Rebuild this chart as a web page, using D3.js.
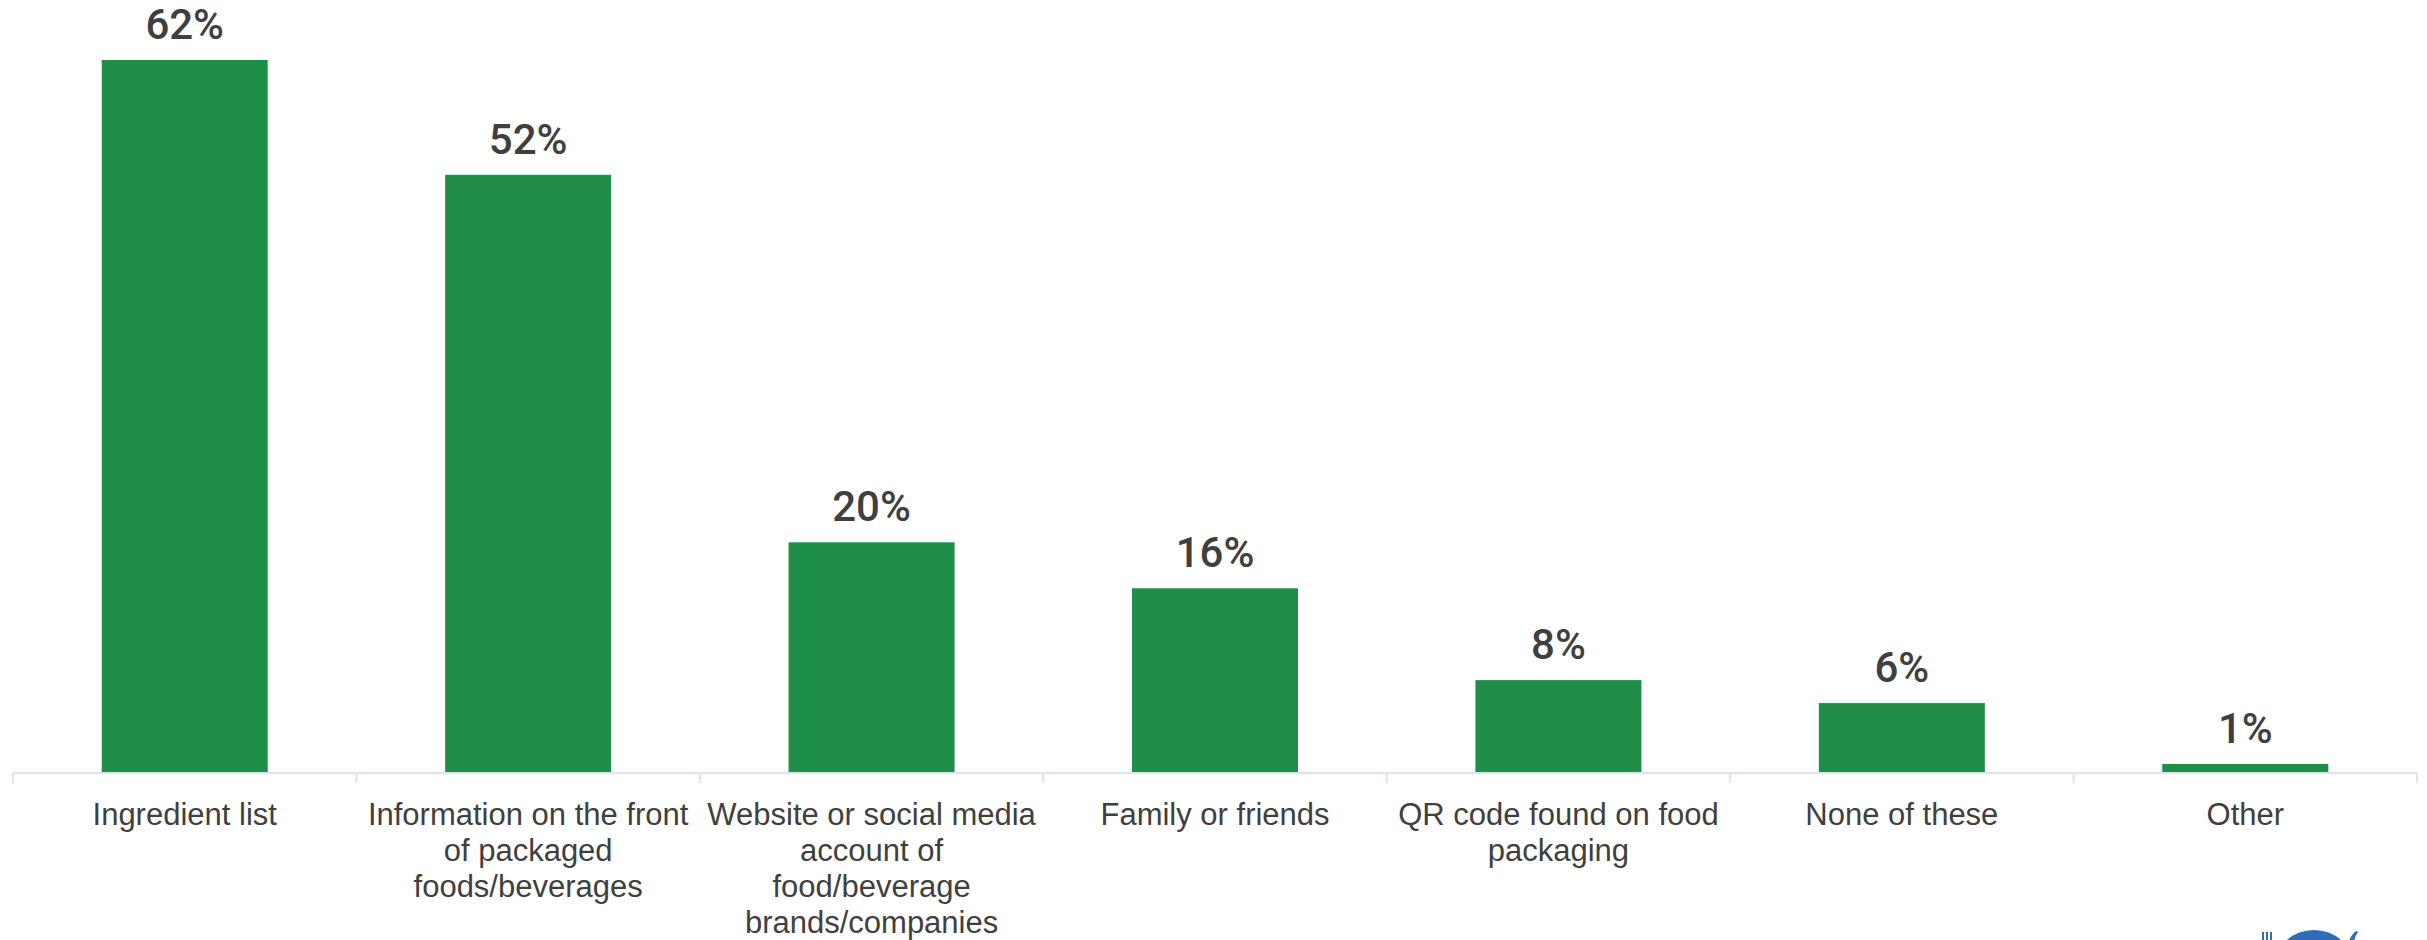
<!DOCTYPE html>
<html>
<head>
<meta charset="utf-8">
<script src="https://cdn.jsdelivr.net/npm/d3@7"></script>
<style>
  html, body { margin: 0; padding: 0; background: #ffffff; }
  svg { display: block; }
</style>
</head>
<body>
<svg id="chart" width="2427" height="940"></svg>
<script>
// ---- data ----
const categories = [
  "Ingredient list",
  "Information on the front of packaged foods/beverages",
  "Website or social media account of food/beverage brands/companies",
  "Family or friends",
  "QR code found on food packaging",
  "None of these",
  "Other"
];
const tickLabelLines = [
  ["Ingredient list"],
  ["Information on the front", "of packaged", "foods/beverages"],
  ["Website or social media", "account of", "food/beverage", "brands/companies"],
  ["Family or friends"],
  ["QR code found on food", "packaging"],
  ["None of these"],
  ["Other"]
];
const values = [62, 52, 20, 16, 8, 6, 0.7];
const valueLabels = ["62%", "52%", "20%", "16%", "8%", "6%", "1%"];

// ---- layout ----
const W = 2427, H = 940;
const baseY = 772;
const svg = d3.select("#chart");

const pad = 0.5166;
const x = d3.scaleBand()
  .domain(categories)
  .range([13, 2417])
  .paddingInner(pad)
  .paddingOuter(pad / 2);

const y = d3.scaleLinear()
  .domain([0, 62])
  .range([baseY, 60]);

const green = "#1e8e48";
const textCol = "#3f3f3f";
const axisCol = "#d9e5f2";

// bars
svg.append("g").selectAll("rect")
  .data(categories)
  .join("rect")
  .attr("x", d => x(d))
  .attr("y", (d, i) => y(values[i]))
  .attr("width", x.bandwidth())
  .attr("height", (d, i) => baseY - y(values[i]))
  .attr("fill", green);

// value labels
svg.append("g").selectAll("text")
  .data(categories)
  .join("text")
  .attr("x", d => x(d) + x.bandwidth() / 2)
  .attr("y", (d, i) => y(values[i]) - 21)
  .attr("text-anchor", "middle")
  .attr("font-family", "Roboto, 'Liberation Sans', Arial, sans-serif")
  .attr("font-size", 42)
  .attr("font-weight", 500)
  .attr("fill", textCol)
  .text((d, i) => valueLabels[i]);

// axis baseline + boundary ticks
const step = x.step();
const r0 = x.range()[0];
const ax = svg.append("g");
ax.append("line")
  .attr("x1", r0).attr("x2", x.range()[1])
  .attr("y1", baseY + 1).attr("y2", baseY + 1)
  .attr("stroke", axisCol).attr("stroke-width", 2);
ax.selectAll("line.tk")
  .data(d3.range(categories.length + 1))
  .join("line")
  .attr("class", "tk")
  .attr("x1", i => r0 + i * step)
  .attr("x2", i => r0 + i * step)
  .attr("y1", baseY)
  .attr("y2", baseY + 11)
  .attr("stroke", axisCol).attr("stroke-width", 2);

// category labels through an axis
const xAxis = d3.axisBottom(x).tickSize(0).tickPadding(0).tickFormat("");
const gx = svg.append("g")
  .attr("transform", `translate(0,${baseY})`)
  .call(xAxis);
gx.select(".domain").remove();
gx.selectAll(".tick").each(function(d) {
  const i = categories.indexOf(d);
  const t = d3.select(this).append("text")
    .attr("text-anchor", "middle")
    .attr("font-family", "'Liberation Sans', Arial, sans-serif")
    .attr("font-size", 31)
    .attr("fill", textCol)
    .attr("y", 53);
  tickLabelLines[i].forEach((ln, k) => {
    t.append("tspan")
      .attr("x", 0)
      .attr("dy", k === 0 ? 0 : 36)
      .text(ln);
  });
});

// partial logo at bottom right (cut off by frame)
const logo = svg.append("g").attr("fill", "#2f6db5");
logo.append("circle")
  .attr("cx", 2314).attr("cy", 972).attr("r", 34)
  .attr("fill", "none").attr("stroke", "#2f6db5").attr("stroke-width", 16);
[2262, 2266, 2270].forEach(px => {
  logo.append("rect").attr("x", px).attr("y", 932).attr("width", 2).attr("height", 10);
});
logo.append("path")
  .attr("d", "M2356,931 Q2350,936 2349,942 L2354,942 Q2355,936 2358,932 Z");
</script>
</body>
</html>
